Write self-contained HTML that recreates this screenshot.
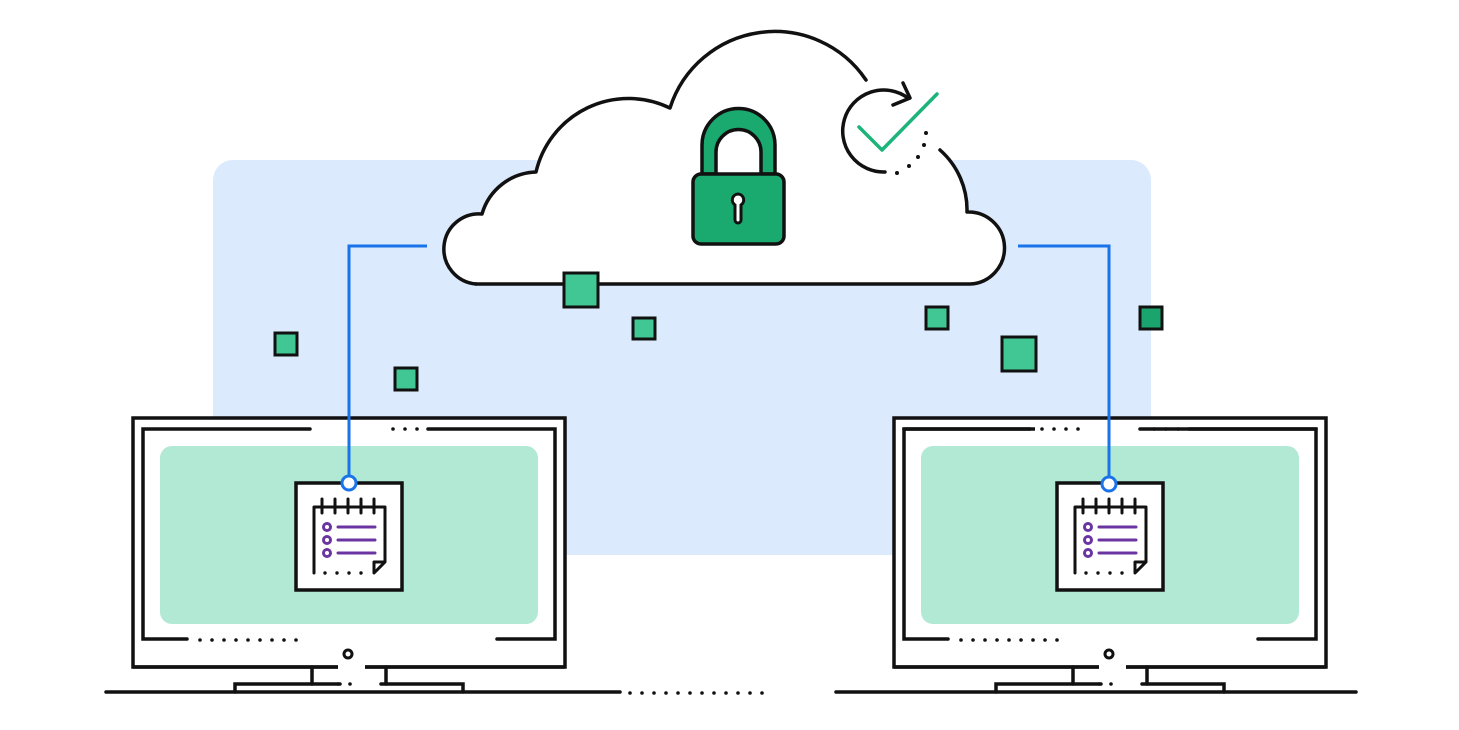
<!DOCTYPE html><html><head><style>body{margin:0;background:#fff}svg{display:block}</style></head><body>
<svg width="1459" height="730" viewBox="0 0 1459 730" xmlns="http://www.w3.org/2000/svg">
<rect x="213" y="160" width="938" height="395" rx="20" fill="#dbeafc"/>
<path d="M476,284 A34,34 0 0 1 482,214 A58,58 0 0 1 536,172 A95,95 0 0 1 670,108 A110,110 0 0 1 866,80 L940,150 A80,80 0 0 1 967,212 A36,36 0 0 1 970,284 Z" fill="#fff"/>
<g fill="none" stroke="#111" stroke-width="3.5" stroke-linecap="round" stroke-linejoin="round">
<path d="M476,284 A34,34 0 0 1 482,214 A58,58 0 0 1 536,172 A95,95 0 0 1 670,108 A110,110 0 0 1 866,80"/>
<path d="M940,150 A80,80 0 0 1 967,212 A36,36 0 0 1 970,284 L476,284"/>
<path d="M885,172 A41,41 0 1 1 908,98"/>
<path d="M903,83 L910,98 L893,105"/>
</g>
<path d="M859,127 L882,150 L937,94" fill="none" stroke="#1db47b" stroke-width="3.5" stroke-linecap="round" stroke-linejoin="round"/>
<g fill="#111"><circle cx="926" cy="133" r="2"/><circle cx="924" cy="145" r="2"/><circle cx="918" cy="157" r="2"/><circle cx="909" cy="166" r="2"/><circle cx="897" cy="173" r="2"/></g>
<!-- lock -->
<path d="M702,174 V145 A36.5,36.5 0 0 1 775,145 V174 H761 V152 A22.5,22.5 0 0 0 716,152 V174 Z" fill="#1aa96e" stroke="#111" stroke-width="3.5" stroke-linejoin="round"/>
<rect x="693" y="174" width="91" height="70" rx="8" fill="#1aa96e" stroke="#111" stroke-width="3.5"/>
<path d="M738,194 a6,6 0 0 1 3,11 v15 a3,3 0 0 1 -6,0 v-15 a6,6 0 0 1 3,-11z" fill="#fff" stroke="#111" stroke-width="3"/>
<!-- squares -->
<g stroke="#111" stroke-width="3" fill="#40c793">
<rect x="564" y="273" width="34" height="34"/><rect x="633" y="318" width="22" height="21"/>
<rect x="275" y="333" width="22" height="22"/><rect x="395" y="368" width="22" height="22"/>
<rect x="926" y="307" width="22" height="22"/><rect x="1002" y="337" width="34" height="34"/>
<rect x="1140" y="307" width="22" height="22" fill="#1aa56e"/>
</g>
<!-- monitors -->
<g id="mon">
<rect x="133" y="418" width="432" height="249" fill="#fff" stroke="#111" stroke-width="3.5"/>
<rect x="160" y="446" width="378" height="178" rx="12" fill="#b2e9d5"/>
<g fill="none" stroke="#111" stroke-width="3.5" stroke-linecap="round">
<path d="M310,429 H143 V639 H187"/>
<path d="M428,429 H555 V639 H497"/>
<path d="M312,667 V684 M386,667 V684"/>
<path d="M235,692 V684 H340 M381,684 H463 V692"/>
</g>
<line x1="133" y1="667" x2="565" y2="667" stroke="#111" stroke-width="3.5"/>
<line x1="338" y1="667" x2="365" y2="667" stroke="#fff" stroke-width="5"/>
<circle cx="348" cy="654" r="4" fill="none" stroke="#111" stroke-width="3"/>
<g fill="#111"><circle cx="393" cy="429" r="1.8"/><circle cx="405" cy="429" r="1.8"/><circle cx="417" cy="429" r="1.8"/>
<circle cx="200" cy="640" r="1.8"/><circle cx="212" cy="640" r="1.8"/><circle cx="224" cy="640" r="1.8"/><circle cx="236" cy="640" r="1.8"/><circle cx="248" cy="640" r="1.8"/><circle cx="260" cy="640" r="1.8"/><circle cx="272" cy="640" r="1.8"/><circle cx="284" cy="640" r="1.8"/><circle cx="296" cy="640" r="1.8"/>
<circle cx="338" cy="684" r="1.8"/><circle cx="350" cy="684" r="1.8"/></g>
<rect x="296" y="483" width="106" height="107" fill="#fff" stroke="#111" stroke-width="3.5"/>
<g fill="none" stroke="#111" stroke-width="3" stroke-linecap="round" stroke-linejoin="round">
<path d="M314,573 V507 H385 V562 L374,573 V562 H385"/>
<path d="M322,499V513M335,499V513M348,499V513M361,499V513M374,499V513"/>
</g>
<g fill="#111"><circle cx="325" cy="573" r="1.7"/><circle cx="337" cy="573" r="1.7"/><circle cx="349" cy="573" r="1.7"/><circle cx="361" cy="573" r="1.7"/></g>
<g stroke="#6a35a0" stroke-width="3" fill="none" stroke-linecap="round"><circle cx="327" cy="527" r="3.5"/><circle cx="327" cy="540" r="3.5"/><circle cx="327" cy="553" r="3.5"/>
<path d="M338,527H375M338,540H375M338,553H375"/></g>
</g>
<use href="#mon" transform="translate(761,0)"/>
<rect x="1035" y="420" width="50" height="16" fill="#fff"/>
<rect x="1085" y="420" width="60" height="16" fill="#fff"/>
<g stroke="#111" stroke-width="3.5" stroke-linecap="round"><path d="M904,429 H1030 M1140,429 H1316"/></g>
<g fill="#111"><circle cx="1042" cy="429" r="1.8"/><circle cx="1054" cy="429" r="1.8"/><circle cx="1066" cy="429" r="1.8"/><circle cx="1078" cy="429" r="1.8"/></g>
<!-- ground -->
<g stroke="#111" stroke-width="3.5" stroke-linecap="round"><path d="M106,692 H620 M836,692 H1356"/></g>
<g fill="#111"><circle cx="630" cy="693" r="1.8"/><circle cx="642" cy="693" r="1.8"/><circle cx="654" cy="693" r="1.8"/><circle cx="666" cy="693" r="1.8"/><circle cx="678" cy="693" r="1.8"/><circle cx="690" cy="693" r="1.8"/><circle cx="702" cy="693" r="1.8"/><circle cx="714" cy="693" r="1.8"/><circle cx="726" cy="693" r="1.8"/><circle cx="738" cy="693" r="1.8"/><circle cx="750" cy="693" r="1.8"/><circle cx="762" cy="693" r="1.8"/></g>
<!-- connectors -->
<g fill="none" stroke="#1a73e8" stroke-width="3">
<path d="M427,246 H349 V476"/><circle cx="349" cy="483" r="7" fill="#fff"/>
<path d="M1018,246 H1109 V477"/><circle cx="1109" cy="484" r="7" fill="#fff"/>
</g>
</svg></body></html>
